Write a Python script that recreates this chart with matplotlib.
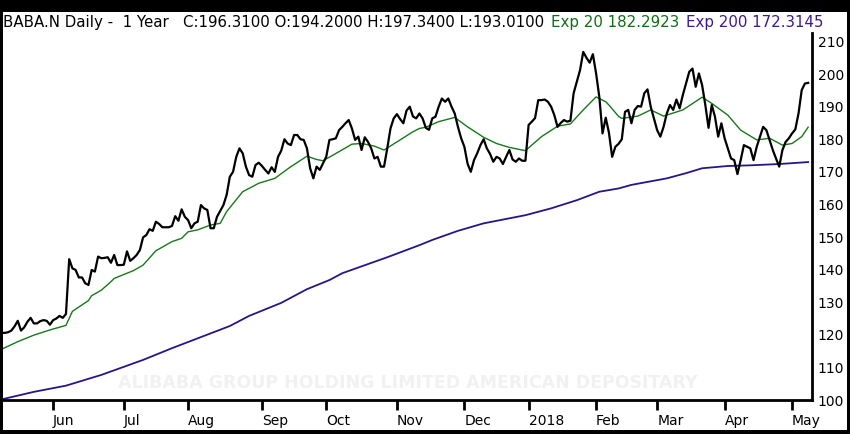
import matplotlib
matplotlib.use("Agg")
import matplotlib.pyplot as plt
import matplotlib.transforms as mtransforms
from matplotlib.patches import Rectangle
import pandas as pd

# BABA daily closes, one value per trading day (2017-05-09 .. 2018-05-08)
price = [
    120.6, 120.6, 120.8, 121.3, 122.6, 124.3, 121.3, 122.3, 124.0, 125.2,
    123.5, 123.5, 124.2, 124.5, 124.3, 123.1, 124.5, 125.0, 125.8, 125.2,
    126.4, 143.2, 140.4, 139.9, 137.6, 137.6, 135.8, 135.3, 139.9, 139.4,
    144.0, 143.5, 143.6, 143.8, 142.1, 144.5, 141.4, 141.4, 141.5, 145.6,
    142.7, 143.5, 144.5, 146.0, 149.9, 150.6, 152.4, 151.9, 154.7, 154.0,
    153.0, 153.0, 153.0, 153.4, 156.4, 155.0, 158.5, 156.2, 155.2, 152.7,
    154.2, 154.7, 159.8, 158.8, 158.3, 152.7, 152.7, 156.2, 158.0, 159.8,
    162.9, 168.5, 170.0, 174.6, 177.2, 175.7, 171.6, 169.0, 168.5, 172.1,
    172.8, 171.8, 170.6, 169.5, 171.4, 170.0, 174.6, 176.5, 180.0, 178.7,
    178.2, 181.3, 181.3, 180.0, 179.8, 177.2, 171.1, 168.0, 171.6, 170.6,
    172.6, 174.6, 179.8, 180.0, 180.3, 182.8, 183.8, 184.9, 185.9, 183.3,
    179.8, 180.8, 176.7, 180.6, 179.2, 177.2, 174.1, 174.6, 171.6, 171.6,
    177.2, 183.3, 186.4, 187.7, 186.2, 184.9, 188.8, 190.0, 187.0, 186.4,
    187.9, 186.4, 183.5, 182.9, 186.4, 186.9, 190.0, 192.5, 191.5, 192.5,
    190.0, 187.9, 183.8, 180.3, 177.7, 172.5, 170.0, 173.6, 175.7, 178.2,
    180.0, 177.2, 175.5, 173.1, 174.6, 174.1, 172.4, 174.6, 176.7, 173.8,
    173.1, 174.1, 173.4, 173.4, 184.4, 185.4, 186.5, 192.0, 192.0, 192.2,
    191.5, 190.0, 187.4, 183.8, 185.0, 185.9, 185.4, 185.7, 194.1, 197.6,
    201.2, 206.8, 205.0, 203.5, 206.1, 200.2, 193.0, 181.8, 186.6, 182.0,
    174.6, 177.7, 178.6, 180.0, 188.4, 189.0, 184.9, 189.0, 190.2, 190.0,
    194.1, 195.3, 190.0, 186.4, 182.8, 180.8, 183.8, 187.9, 190.5, 189.0,
    192.2, 189.5, 193.6, 197.1, 200.7, 201.7, 196.1, 200.2, 196.6, 190.5,
    183.5, 190.5, 186.9, 180.8, 184.9, 180.3, 177.2, 174.1, 173.6, 169.3,
    173.6, 178.2, 177.7, 177.2, 173.6, 177.7, 180.8, 183.8, 182.8, 179.8,
    176.7, 174.1, 171.6, 176.7, 179.2, 180.3, 181.8, 183.0, 187.9, 195.1,
    197.1, 197.3,
]

# moving averages (trading-day index, value)
ema20_day = [0, 5, 10, 15, 20, 22, 27, 28, 31, 34, 35, 41, 44, 48, 53, 56, 58, 61,
             65, 68, 70, 75, 80, 85, 90, 95, 98, 100, 105, 109, 112, 116, 119, 124,
             128, 130, 132, 136, 141, 145, 150, 154, 158, 163, 168, 173, 177, 181,
             185, 188, 189, 192, 193, 198, 202, 206, 212, 218, 221, 226, 230, 235,
             239, 243, 246, 249, 251]
ema20 = [115.6, 117.9, 119.9, 121.5, 122.9, 127.2, 130.5, 132.0, 133.7, 136.3, 137.3,
         139.7, 141.4, 145.8, 148.6, 149.6, 151.6, 152.2, 153.7, 154.2, 157.8, 163.9,
         166.5, 168.0, 171.6, 174.8, 173.8, 173.4, 176.2, 178.5, 178.7, 177.9, 176.7,
         179.8, 182.3, 183.3, 183.7, 185.4, 186.7, 183.8, 180.6, 178.7, 177.5, 176.5,
         180.8, 184.0, 184.7, 189.0, 193.0, 191.5, 190.5, 187.0, 186.4, 187.1, 189.0,
         187.1, 189.0, 192.9, 191.0, 187.4, 182.8, 179.8, 180.3, 178.2, 178.7, 180.8,
         183.7]

ema200_day = [0, 10, 20, 31, 44, 53, 62, 71, 77, 87, 95, 102, 106, 114, 120, 130,
              134, 142, 150, 163, 171, 179, 186, 192, 196, 207, 213, 218, 226, 233,
              242, 251]
ema200 = [100.2, 102.5, 104.4, 107.7, 112.3, 115.9, 119.3, 122.7, 125.8, 129.8,
          134.0, 136.8, 138.9, 141.7, 143.8, 147.5, 149.1, 151.9, 154.2, 156.7,
          158.8, 161.3, 163.9, 164.9, 166.0, 168.0, 169.6, 171.1, 171.8, 172.0,
          172.4, 173.0]

holidays = ["2017-05-29", "2017-07-04", "2017-09-04", "2017-11-23", "2017-12-25",
            "2018-01-01", "2018-01-15", "2018-02-19", "2018-03-30"]
dates = pd.bdate_range("2017-05-09", "2018-05-08")
dates = dates[~dates.isin(pd.to_datetime(holidays))]

header_parts = [
    ("BABA.N Daily -  1 Year   C:196.3100 O:194.2000 H:197.3400 L:193.0100", "black"),
    ("Exp 20 182.2923", "#0f6e12"),
    ("Exp 200 172.3145", "#3c1a8c"),
]
watermark = "ALIBABA GROUP HOLDING LIMITED AMERICAN DEPOSITARY"

# month ticks: first trading day of each new month
tick_pos, tick_lab = [], []
for i in range(1, len(dates)):
    if dates[i].month != dates[i - 1].month:
        tick_pos.append(i)
        tick_lab.append("2018" if dates[i].month == 1 else dates[i].strftime("%b"))

W, H = 850, 434
fig = plt.figure(figsize=(W / 100, H / 100), dpi=100, facecolor="black")
fig.add_artist(Rectangle((3 / W, 4 / H), 844 / W, 418 / H, transform=fig.transFigure,
                         facecolor="white", edgecolor="none", zorder=0))

ax = fig.add_axes([3 / W, 34 / H, 809 / W, 367 / H])
ax.set_facecolor("none")

ax.text(0.5, 0.046, watermark, transform=ax.transAxes, ha="center", va="center",
        fontsize=12.5, fontweight="bold", color="#f1f1f1", zorder=0)

ax.plot(ema200_day, ema200, color="#2a1488", lw=1.3, zorder=2)
ax.plot(ema20_day, ema20, color="#17781a", lw=1.0, zorder=3)
ax.plot(range(len(price)), price, color="black", lw=1.6, zorder=4)

ax.set_xlim(0.4, 252.2)
ax.set_ylim(100, 212.6)
ax.set_yticks(range(100, 211, 10))
ax.yaxis.tick_right()
ax.tick_params(axis="y", length=0, pad=4, labelsize=10, colors="black")
ax.set_xticks(tick_pos)
ax.set_xticklabels(tick_lab)
ax.tick_params(axis="x", direction="out", length=7, width=2, pad=3, labelsize=10)
for lbl in ax.get_xticklabels():
    lbl.set_horizontalalignment("left")

for side in ["top", "left"]:
    ax.spines[side].set_visible(False)
for side in ["bottom", "right"]:
    ax.spines[side].set_linewidth(2)
    ax.spines[side].set_color("black")

# coloured header pieces, laid out one after another in pixel space
renderer = fig.canvas.get_renderer()
x = 3
for txt, col in header_parts:
    t = fig.text(x, H - 22, txt, color=col, fontsize=10.8, va="center",
                 transform=mtransforms.IdentityTransform())
    x = t.get_window_extent(renderer).x1 + 7

fig.savefig("out.png", dpi=100, facecolor="black")
